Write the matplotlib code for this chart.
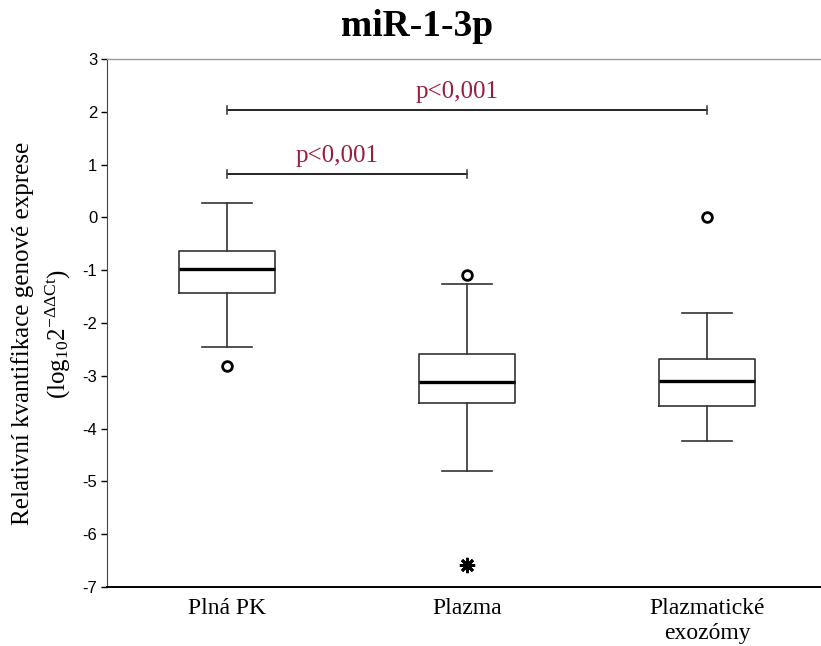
"""Box plot of miR-1-3p relative expression across sample types."""

import matplotlib
matplotlib.use("Agg")
import matplotlib.pyplot as plt

# Data
groups = ["Plná PK", "Plazma", "Plazmatické\nexozómy"]
whisker_high = [0.28, -1.27, -1.81]
q3 = [-0.63, -2.59, -2.68]
median = [-0.98, -3.12, -3.09]
q1 = [-1.44, -3.52, -3.58]
whisker_low = [-2.45, -4.80, -4.23]
outliers = [[-2.81], [-1.09], [0.0]]
extremes = [[], [-6.58], []]

# significance brackets: (group a, group b, height)
brackets = [(1, 2, 0.82), (1, 3, 2.03)]
p_label = "p<0,001"

SERIF = ["Liberation Serif", "DejaVu Serif"]
RED = "#9B1D3D"

plt.rcParams["mathtext.fontset"] = "custom"
plt.rcParams["mathtext.rm"] = "Liberation Serif"
plt.rcParams["mathtext.it"] = "Liberation Serif:italic"
plt.rcParams["mathtext.bf"] = "Liberation Serif:bold"

fig = plt.figure(figsize=(8.21, 6.46), dpi=100)
ax = fig.add_axes([107 / 821, 59 / 646, 720 / 821, 528 / 646])

stats = []
for i in range(len(groups)):
    stats.append({
        "med": median[i], "q1": q1[i], "q3": q3[i],
        "whislo": whisker_low[i], "whishi": whisker_high[i],
        "fliers": outliers[i],
    })

pos = list(range(1, len(groups) + 1))
ax.bxp(
    stats, positions=pos, widths=0.4, showfliers=True,
    boxprops=dict(color="#333333", linewidth=1.2),
    whiskerprops=dict(color="#333333", linewidth=1.2),
    capprops=dict(color="#333333", linewidth=1.2),
    capwidths=0.21,
    medianprops=dict(color="black", linewidth=2.4),
    flierprops=dict(marker="o", markerfacecolor="white", markeredgecolor="black",
                    markersize=7, markeredgewidth=2),
)

for p, ext in zip(pos, extremes):
    if ext:
        ax.plot([p] * len(ext), ext, linestyle="none", marker=(8, 2, 0),
                color="black", markersize=11, markeredgewidth=2.0)

for a, b, h in brackets:
    ax.plot([a, b], [h, h], color="black", linewidth=1.2)
    for x in (a, b):
        ax.plot([x, x], [h - 0.08, h + 0.08], color="#444444", linewidth=1.2)
    ax.text((a + b) / 2 - 0.04, h + 0.13, p_label, ha="center", va="bottom",
            color=RED, fontsize=18, family=SERIF)

ax.set_xlim(0.5, 3.5)
ax.set_ylim(-7, 3)
ax.set_yticks(range(-7, 4))
ax.set_yticklabels([str(v) for v in range(-7, 4)], family="Liberation Sans",
                   fontsize=12)
ax.set_xticks(pos)
ax.set_xticklabels(groups, family=SERIF, fontsize=17, linespacing=1.25)
ax.tick_params(axis="x", length=0, pad=8)
ax.tick_params(axis="y", length=4, width=1, direction="out", pad=3)

for side in ("top", "right"):
    ax.spines[side].set_color("#999999")
    ax.spines[side].set_linewidth(1)
ax.spines["left"].set_color("#444444")
ax.spines["bottom"].set_color("black")
ax.spines["bottom"].set_linewidth(1.4)

ax.set_ylabel("Relativní kvantifikace genové exprese\n(log$_{10}$2$^{-\\Delta\\Delta\\mathrm{Ct}}$)",
              family=SERIF, fontsize=18, linespacing=1.45)
ax.yaxis.set_label_coords(-0.047, 0.48)

fig.text(417 / 821, 1 - 27 / 646, "miR-1-3p", ha="center", va="center",
         family=SERIF, fontsize=27, fontweight="bold")

fig.savefig("out.png", dpi=100, facecolor="white")
plt.close(fig)
